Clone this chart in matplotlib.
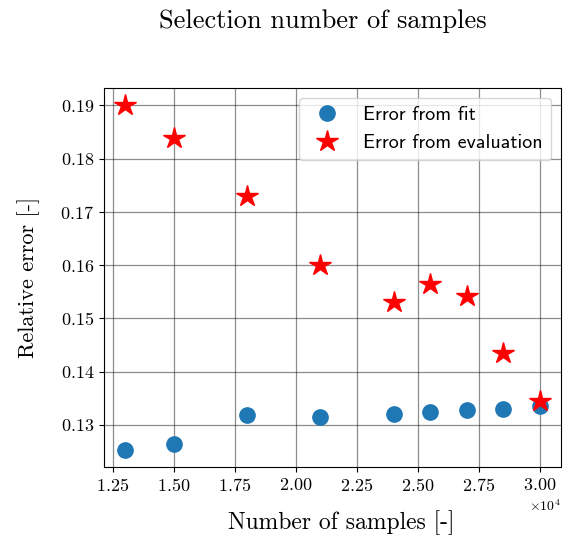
import matplotlib
matplotlib.use("Agg")
import matplotlib.pyplot as plt

plt.rcParams["font.family"] = ["cmr10", "DejaVu Serif"]
plt.rcParams["mathtext.fontset"] = "cm"
plt.rcParams["axes.formatter.use_mathtext"] = True
plt.rcParams["axes.unicode_minus"] = False

# data
n_samples = [13000, 15000, 18000, 21000, 24000, 25500, 27000, 28500, 30000]
err_fit = [0.1253, 0.1264, 0.1318, 0.1315, 0.1321, 0.1324, 0.1328, 0.1330, 0.1336]
err_eval = [0.1900, 0.1838, 0.1730, 0.1600, 0.1531, 0.1564, 0.1542, 0.1434, 0.1345]

fig = plt.figure(figsize=(5.7, 5.44), dpi=100)
ax = fig.add_axes([0.1825, 0.1415, 0.8015, 0.6965])

ax.plot(n_samples, err_fit, "o", color="#1f77b4", markersize=11, label="Error from fit")
ax.plot(n_samples, err_eval, "*", color="red", markersize=16, label="Error from evaluation")

ax.grid(True, color="k", alpha=0.45, linewidth=0.9)
ax.set_axisbelow(True)
ax.ticklabel_format(axis="x", style="sci", scilimits=(0, 0))
ax.tick_params(labelsize=13)
ax.xaxis.get_offset_text().set_fontsize(10)

ax.set_xlabel("Number of samples [-]", fontsize=17, labelpad=12)
ax.xaxis.label.set_x(0.519)
ax.set_ylabel("Relative error [-]", fontsize=16, labelpad=15)
fig.text(0.567, 1 - 28 / 544, "Selection number of samples", fontsize=19,
         ha="center", va="baseline")

ax.legend(loc="upper right", prop={"family": ["cmss10", "DejaVu Sans"], "size": 14.4})

fig.savefig("out.png", dpi=100, facecolor="white")
